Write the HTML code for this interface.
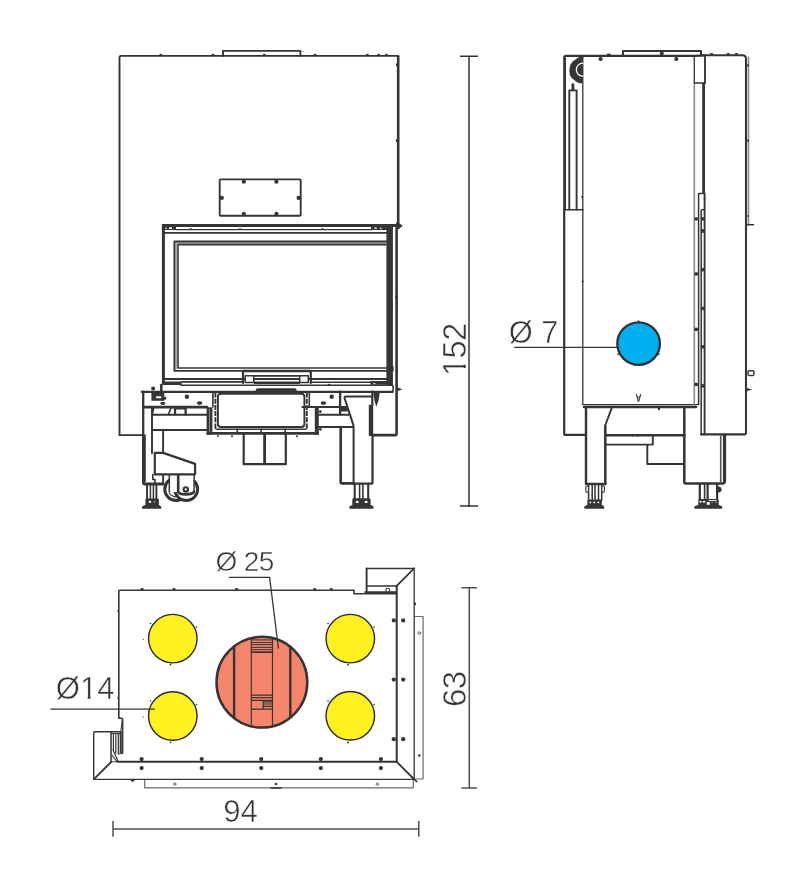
<!DOCTYPE html>
<html lang="en">
<head>
<meta charset="utf-8">
<title>Technical drawing</title>
<style>
html,body{margin:0;padding:0;background:#fff;}
body{width:805px;height:887px;overflow:hidden;}
svg{display:block;will-change:transform;}
.l{fill:none;stroke:#363435;stroke-width:1.8;stroke-linecap:round;stroke-linejoin:round;}
.t{fill:none;stroke:#363435;stroke-width:1.3;stroke-linecap:round;stroke-linejoin:round;}
.h{fill:none;stroke:#363435;stroke-width:2.5;stroke-linecap:round;stroke-linejoin:round;}
.g{fill:none;stroke:#8a8a8a;stroke-width:1;}
.d{fill:#363435;stroke:none;}
.dim{fill:none;stroke:#363435;stroke-width:1.5;}
text{font-family:"Liberation Sans",sans-serif;fill:#363435;stroke:#fff;stroke-width:0.5px;paint-order:fill stroke;}
</style>
</head>
<body>
<svg width="805" height="887" viewBox="0 0 805 887">
<rect width="805" height="887" fill="#fff"/>

<!-- ================= FRONT VIEW ================= -->
<g id="front" fill="none" stroke="#363435" stroke-linecap="round" stroke-linejoin="round">
  <!-- body -->
  <path stroke-width="1.9" d="M119.5 435.1V57.4Q119.5 55.9 121 55.9H397"/>
  <path stroke-width="2.6" d="M398.2 56.3V224"/>
  <path stroke-width="1.9" d="M119.5 435.1H143"/>
  <path stroke-width="1.9" d="M223 55.9V50.9H300.4V55.9"/>
  <g fill="#363435" stroke="none"><ellipse cx="160.9" cy="54.8" rx="1.5" ry="1"/><ellipse cx="212.8" cy="54.8" rx="1.5" ry="1"/><ellipse cx="264.3" cy="54.8" rx="1.5" ry="1"/><ellipse cx="315.1" cy="54.8" rx="1.5" ry="1"/><ellipse cx="367.3" cy="54.8" rx="1.5" ry="1"/><ellipse cx="378.7" cy="54.8" rx="1.5" ry="1"/><ellipse cx="386.4" cy="54.8" rx="1.5" ry="1"/><ellipse cx="396.8" cy="64.8" rx="1" ry="1.6"/><ellipse cx="396.8" cy="140.6" rx="1" ry="1.6"/><circle cx="303" cy="51.5" r="0.6"/></g>
  <!-- plate -->
  <rect stroke-width="1.9" x="219.7" y="179.4" width="81" height="36.3" rx="1"/>
  <g fill="#363435" stroke="none"><circle cx="243.8" cy="181.7" r="2.1"/><circle cx="276.4" cy="181.7" r="2.1"/><circle cx="243.8" cy="213.9" r="2.1"/><circle cx="276.4" cy="213.9" r="2.1"/><circle cx="221.8" cy="197.9" r="2.1"/><circle cx="298.6" cy="197.9" r="2.1"/></g>
  <!-- door -->
  <path stroke-width="3" stroke-linecap="butt" d="M162 225.5H397.5"/>
  <path stroke-width="6" stroke-linecap="butt" d="M162 227H176M371 227H392.7"/>
  <path stroke-width="1.3" d="M176 229.7H371"/>
  <path stroke-width="1.9" d="M163.5 232.9H388"/>
  <path stroke-width="3" stroke-linecap="butt" d="M163.4 224V385"/>
  <path d="M386.4 224H392.9V385H386.4Z" fill="#363435" stroke="none"/>
  <path stroke="#a8a8a8" stroke-width="1.6" stroke-linecap="butt" d="M387 243.1H176.2V369.4"/>
  <path stroke-width="1.9" d="M387 241.5H174.4V370.9H387"/><path stroke-width="2.4" d="M243 371H310.8"/>
  <path stroke-width="1.6" d="M387 244.6H178V368H387"/>
  <path stroke-width="1.9" d="M163.5 379H392"/>
  <path stroke-width="3.6" stroke-linecap="butt" d="M163.4 383.2H181.7M370.4 382.9H392"/><rect x="373.4" y="382.8" width="1.8" height="1.4" fill="#fff" stroke="none"/>
  <path stroke-width="1.6" d="M181.7 381.9H243M312 382.2H392"/>
  <path stroke-width="2.6" d="M396.6 226V434Q396.6 435.1 395.5 435.1H372.3"/>
  <!-- handle -->
  <path stroke-width="2.2" d="M243 383V371.4M310.8 371.4V383"/>
  <path stroke-width="1.7" d="M254 375.8H300M254 378.9H300"/><path stroke-width="2.6" stroke-linecap="butt" d="M254 382.8H300"/>
  <rect x="245.2" y="375.7" width="8.6" height="6.8" fill="#fff" stroke-width="1.5"/>
  <rect x="299.7" y="375.7" width="8.6" height="6.8" fill="#fff" stroke-width="1.5"/>
  <!-- tray -->
  <path stroke-width="1.6" d="M181 385.2H392.6Q393.9 388.5 392.6 391.8"/>
  <path stroke-width="2.2" d="M141.8 391.9H392.6"/>
  <path stroke-width="4.6" d="M258 390.6H294.4"/>
  <g fill="#363435" stroke="none"><path d="M396.5 222L402.8 225.5L398.6 229.5L395.4 226Z"/><path d="M396 386.8L402.3 389.4L396 391.6Z"/><ellipse cx="396" cy="297" rx="1" ry="1.5"/><ellipse cx="391.8" cy="305" rx="1.3" ry="2"/><ellipse cx="392.2" cy="368.7" rx="1.5" ry="3.2"/><ellipse cx="190.7" cy="229.2" rx="1.6" ry="0.9"/><ellipse cx="240" cy="229.2" rx="1.6" ry="0.9"/><ellipse cx="322.5" cy="229.2" rx="1.6" ry="0.9"/><ellipse cx="329" cy="384.5" rx="1.5" ry="0.8"/></g>
  <g fill="#fff" stroke="none"><rect x="165.5" y="227.5" width="1.2" height="1.6"/><rect x="169" y="227.3" width="3" height="1.7"/><rect x="374.5" y="227.5" width="2.2" height="1.4"/><rect x="380" y="227.7" width="1.6" height="1.2"/></g>
  <!-- left leg -->
  <path stroke-width="2.3" d="M143.2 391.6V435"/><path stroke-width="3.8" stroke-linecap="butt" d="M143.9 434.5V482"/><path stroke-width="2.8" d="M143.4 482.4Q143.4 484 145 484H163.2"/>
  <path stroke-width="2.7" d="M143.2 407.1H207"/>
  <path stroke-width="1.9" d="M152.4 414.7H207M152.4 430H207"/>
  <path stroke-width="1.9" d="M152 407.1V453.3M163.1 430V453M163.1 474.3V484"/>
  <path stroke-width="1.6" d="M152.8 474.5V479.5H155V484"/>
  <path stroke-width="1.7" d="M171.3 407.5L168.3 414.5M153.6 408L152.4 414"/>
  <path stroke-width="2.3" d="M175 414.5V408.3H185.6V414.5"/>
  <path d="M151.4 392.4H164.3V400.8H151.4Z" fill="#363435" stroke="none"/><rect x="155.9" y="396.2" width="5.6" height="2.1" rx="1" fill="#fff" stroke="none"/>
  <path stroke-width="2.6" d="M161.3 385V391.6"/>
  <g fill="#363435" stroke="none"><circle cx="153.1" cy="388.6" r="2"/><circle cx="186.9" cy="396.8" r="2.2"/><ellipse cx="199.6" cy="403.1" rx="2.8" ry="1.8"/><ellipse cx="162.8" cy="403.3" rx="2.6" ry="1.6"/><circle cx="164.8" cy="398.3" r="1.5"/></g>
  <!-- wheel -->
  <circle cx="176.2" cy="489.2" r="11.4" stroke-width="3"/>
  <path stroke-width="1.3" d="M169.5 493.5A7.6 7.6 0 0 0 181 494.8"/>
  <circle cx="186.2" cy="489.2" r="11.4" stroke-width="3" fill="#fff"/>
  <path d="M169.3 474.3H194.1V492H169.3Z" fill="#fff" stroke="none"/>
  <path stroke-width="1.5" d="M169.3 474.3V492M194.1 474.3V492.5"/>
  <path stroke-width="2.6" d="M178.2 474.3V491.5Q178.6 494.4 186 494.4Q192.5 494.2 193.8 492"/>
  <circle cx="185.8" cy="489.4" r="2.2" fill="#fff" stroke-width="2.1"/>
  <path stroke-width="2.2" fill="#fff" d="M154.8 452.9H163.1L195.1 463.9V474.3H154.8Z"/>
  <!-- left foot -->
  <g>
    <path stroke-width="1.9" d="M147 484V499M156.4 484V499"/><path stroke-width="1.5" d="M150.4 484V499M153.4 484V499"/>
    <path fill="#363435" stroke="none" d="M146.2 498.6H158.1L158.9 499.6V504.9L160.6 505.9Q162.3 507.3 160.8 508.8H142.5Q141.0 507.3 142.7 505.9L145.4 504.9V499.6Z"/>
    <rect x="148.8" y="500.8" width="2.3" height="2" fill="#fff" stroke="none"/><rect x="153.8" y="501" width="1.4" height="1.5" fill="#aaa" stroke="none"/>
  </g>
  <!-- ash box -->
  <rect stroke-width="1.9" x="217.9" y="393.7" width="86.5" height="33.3" rx="3"/>
  <path stroke-width="5.8" stroke-linecap="butt" d="M209.5 407.3V434.6"/>
  <path stroke="#8a8a8a" stroke-width="1" stroke-linecap="butt" d="M209.5 409V432"/>
  <path stroke-width="4" stroke-linecap="butt" d="M316.8 407.3V434.8"/>
  <path stroke-width="2.8" stroke-linecap="butt" d="M206.6 433.3H318.8"/>
  <path stroke-width="1.9" stroke-dasharray="5 1.2" stroke-linecap="butt" d="M215.4 392.5V428M306.8 392.5V428"/>
  <path stroke-width="1.6" d="M212.9 392.5V407M215.4 428Q215.6 429.3 217 429.3H305.2Q306.6 429.3 306.8 428M309.3 392.5V407"/>
  <path stroke-width="1.6" d="M237.3 429.3V432M261.1 429.3V432M285.2 429.3V432"/>
  <g fill="#363435" stroke="none"><circle cx="232" cy="436.3" r="1"/><circle cx="218" cy="436" r="0.9"/><circle cx="297" cy="436.3" r="1"/><circle cx="320.3" cy="411.7" r="1.4"/><circle cx="320.3" cy="429.3" r="1.4"/></g>
  <!-- chimney stub -->
  <path stroke-width="2.2" d="M243.7 434V464.2H285.8V434"/>
  <path stroke-width="2.8" stroke-linecap="butt" d="M264.6 434V464.2"/>
  <!-- right leg -->
  <path stroke-width="1.9" d="M302.4 407H345.6"/>
  <path stroke-width="2.3" d="M340.1 391.6V414.7"/>
  <path stroke-width="1.9" d="M318.8 414.7H348.6M318.8 427H353"/>
  <path stroke-width="2.2" d="M340.1 408.3H347M340.1 410.4H347.3"/>
  <path stroke-width="2" d="M372.3 396.4H346Q344.2 396.4 344.6 398.2L353.2 424.6Q353.6 426 353.6 428V483.5"/>
  <path stroke-width="2.2" d="M372.3 391.6V405"/>
  <path stroke-width="4.4" stroke-linecap="butt" d="M371 404.8V436"/>
  <path fill="#363435" stroke="none" d="M373.3 392.5H379.7L378.6 400L376.3 407L374.6 401Z"/>
  <path stroke-width="2.2" d="M372.5 436V482.2Q372.5 483.7 371 483.7H353.6"/><path stroke-width="2.6" d="M353.6 483.4H342.2Q340.7 483.4 340.7 482V427.2"/>
  <g fill="#363435" stroke="none"><circle cx="331.7" cy="396.8" r="2.2"/><ellipse cx="323.4" cy="403.1" rx="2.8" ry="1.8"/></g>
  <!-- right foot -->
  <g>
    <path stroke-width="2.1" d="M354.7 484V499M368.2 484V499"/><path stroke-width="1.6" d="M359.6 484V499M362.9 484V499"/>
    <path fill="#363435" stroke="none" d="M353.1 498.2H369.8L370.6 499.2V504.9L372.9 505.9Q374.6 507.3 373.1 508.8H349.8Q348.3 507.3 350.0 505.9L352.3 504.9V499.2Z"/>
    <rect x="355.9" y="500.9" width="2.6" height="2.1" fill="#fff" stroke="none"/><rect x="364.8" y="500.9" width="2.6" height="2.1" fill="#fff" stroke="none"/>
  </g>
</g>

<!-- dimension 152 -->
<path class="dim" d="M469 56.2V507M460 56.2H478M460 506H478"/>
<g transform="translate(466.4,375.9) rotate(-90)"><text font-size="32.4" letter-spacing="-0.5">152</text><path class="cv" d="M1 1V-3.7H7.9V1ZM11.25 1V-3.7H17.6V1Z" fill="#fff"/></g>

<!-- ================= SIDE VIEW ================= -->
<g id="side" fill="none" stroke="#363435" stroke-linecap="round" stroke-linejoin="round">
  <path stroke-width="2.8" stroke-linecap="butt" d="M564.6 209.6V57.5"/>
  <path stroke-width="2.2" d="M564.2 209.6V433.4Q564.2 434.9 565.7 434.9H585.3"/>
  <path stroke-width="2.2" d="M564.3 58V57.4Q564.3 55.9 565.9 55.9H695L704 55.3"/>
  <path stroke-width="1.6" d="M564.5 209.7H582.8"/>
  <path stroke-width="1.3" d="M582.8 57V404.7H698.3"/>
  <path stroke-width="2.4" d="M584 407H696"/>
  <path stroke="#8a8a8a" stroke-width="1.6" stroke-linecap="butt" d="M694.3 83V404.7"/>
  <path stroke-width="1.3" d="M694.3 56.5V83H704.5"/>
  <path stroke-width="1.9" d="M705 56V83"/>
  <path stroke-width="2.8" stroke-linecap="butt" d="M703.6 83V193.4"/>
  <path stroke-width="1.5" d="M704 193.6H698.6V404.4"/>
  <path stroke-width="1.9" d="M704.6 193.4V434.4"/>
  <path stroke-width="1.5" d="M704.3 209.8H702.2Q701.2 209.8 701.2 211V434.4"/>
  <path stroke-width="2.1" d="M701 55.2H742.5Q746 55.2 746 58.8V433Q746 434.4 744.6 434.4H701"/>
  <path stroke="#8a8a8a" stroke-width="1.6" stroke-linecap="butt" d="M748.5 56.5V224.7"/>
  <path stroke-width="1.4" d="M747 224.7H753.6"/>
  <path stroke-width="2" d="M623 55.5V51H701V55.5"/>
  <!-- pulley -->
  <path d="M582.8 56.8Q578 56.6 576 59.2Q572.5 60.4 570.5 64.5Q568.6 69.5 569.8 75Q571.5 79 574.5 80.2Q577 83.4 582.8 83.3Z" fill="#363435" stroke="none"/>
  <path d="M582.8 63.2A6.5 6.5 0 0 0 582.8 76.2" stroke="#fff" stroke-width="1.3"/>
  <!-- rod -->
  <path stroke-width="1.9" d="M569.3 209.6V90.4H576.6V209.6"/>
  <path stroke-width="2.8" d="M572.9 84.6V90"/>
  <g fill="#363435" stroke="none"><circle cx="600.6" cy="59" r="2.1"/><circle cx="676.3" cy="59" r="2.1"/><circle cx="661.8" cy="53.4" r="2"/><ellipse cx="608.8" cy="54.6" rx="2.2" ry="1.1"/><ellipse cx="711.6" cy="54" rx="1.8" ry="1"/><ellipse cx="728.3" cy="54" rx="1.8" ry="1"/><ellipse cx="736.5" cy="54" rx="1.8" ry="1"/>
  <circle cx="582.2" cy="197" r="1.1"/><circle cx="582.6" cy="281.5" r="1"/>
  <circle cx="696.2" cy="218.8" r="1.9"/><circle cx="702.7" cy="218.8" r="1.9"/><circle cx="702.7" cy="231" r="1.9"/>
  <circle cx="696.2" cy="273.9" r="1.9"/><circle cx="702.7" cy="269.7" r="1.9"/><circle cx="702.7" cy="308.4" r="1.9"/><circle cx="696.2" cy="329.3" r="1.9"/><circle cx="702.7" cy="346.8" r="1.9"/><circle cx="696.2" cy="384.4" r="1.9"/><circle cx="702.7" cy="385.8" r="1.9"/>
  <ellipse cx="748" cy="65.2" rx="0.9" ry="1.3"/><ellipse cx="748" cy="140.6" rx="0.9" ry="1.3"/><ellipse cx="748" cy="216" rx="0.8" ry="1.1"/><circle cx="704.5" cy="198.5" r="0.9"/></g>
  <!-- knob -->
  <rect x="748" y="370.7" width="6" height="4.8" rx="1.4" fill="#fff" stroke-width="1.5"/>
  <path fill="#363435" stroke="none" d="M745.5 387.8L752.3 389.6L745.5 391.4Z"/>
  <!-- blue circle -->
  <path stroke-width="1.4" stroke-linecap="butt" d="M514.3 347.4H618"/>
  <circle cx="638.6" cy="343.6" r="21.3" fill="#00aff0" stroke="#332e2d" stroke-width="2.3"/>
  <g fill="#363435" stroke="none"><circle cx="638.6" cy="321.2" r="0.9"/><circle cx="618.3" cy="354.2" r="0.9"/><circle cx="658.8" cy="354.2" r="0.9"/></g>
  <!-- A mark -->
  <path stroke-width="1.1" d="M636.4 394.6L638.2 401.2H638.8L640.6 394.6M637 397H640"/>
  <!-- legs -->
  <path stroke-width="2.4" d="M586 407V484H605.3"/>
  <path stroke-width="1.9" d="M611.7 408.2L605.6 424.5"/>
  <path stroke-width="2.5" d="M605.3 425.8V484"/>
  <path stroke-width="2.4" d="M605.3 435.2H684.3"/>
  <path stroke-width="1.9" d="M605.3 444.6H652.8V435.2M647.3 444.6V464H684.3"/>
  <path stroke-width="2.5" d="M684.3 407V482Q684.3 483.5 685.8 483.5H722.8Q724.4 483.5 724.4 482"/><path stroke-width="3.2" stroke-linecap="butt" d="M724.5 435V482.5"/>
  <path stroke-width="1.6" stroke="#555" d="M720.7 435V483"/>
  <g fill="#363435" stroke="none"><circle cx="632.6" cy="435.2" r="1.3"/><circle cx="638.2" cy="435.2" r="1.3"/><circle cx="659" cy="409" r="1.2"/></g>
  <!-- feet -->
  <g>
    <path stroke-width="1.5" d="M588.6 484.3V500.5M592.2 484.3V500.5M595 484.3V500.5M598.5 484.3V500.5M601.7 484.3V500.5"/>
    <path fill="#363435" stroke="none" d="M588.1 499.4H601.0L601.8 500.4V504.9L603.6 505.9Q605.3 507.3 603.8 508.8H584.7Q583.2 507.3 584.9 505.9L587.3 504.9V500.4Z"/>
    <rect x="585.8" y="486" width="2.6" height="6.2" rx="1.3" fill="#fff" stroke-width="1.1"/>
    <rect x="601.8" y="486" width="2.6" height="6.2" rx="1.3" fill="#fff" stroke-width="1.1"/>
    <g fill="#fff" stroke="none"><rect x="589.5" y="501.7" width="1.7" height="1.5"/><rect x="593.4" y="501.7" width="1.7" height="1.5"/><rect x="597.5" y="501.7" width="1.7" height="1.5"/></g>
  </g>
  <g>
    <path stroke-width="2.2" d="M699.8 484.3V500M707.6 484.3V500M717.1 484.3V500"/><path stroke-width="1.6" d="M704.6 484.3V500"/>
    <path fill="#363435" stroke="none" d="M699.1 498.9H717.9L718.7 499.9V504.9L721.6 505.9Q723.3 507.3 721.8 508.8H694.8Q693.3 507.3 695.0 505.9L698.3 504.9V499.9Z"/>
    <path fill="#363435" stroke="none" d="M717.5 486.6H719Q721.6 487 721.6 489.6Q721.6 492.3 719 492.6H717.5Z"/>
    <g fill="#fff" stroke="none"><rect x="699.6" y="500.9" width="2" height="1.7"/><rect x="702.8" y="500.9" width="2.4" height="1.7"/><rect x="706.8" y="502.1" width="3" height="2.7"/><rect x="708.6" y="500" width="8" height="0.9"/><rect x="711.5" y="502" width="1.3" height="0.8" fill="#aaa"/><rect x="715" y="502" width="2" height="0.8" fill="#aaa"/></g>
  </g>
</g>
<text x="508.8" y="343" font-size="30.8">Ø 7</text>

<!-- ================= PLAN VIEW ================= -->
<g id="plan" fill="none" stroke="#363435" stroke-linecap="round" stroke-linejoin="round">
  <!-- strips -->
  <path stroke="#6a6a6a" stroke-width="1.2" d="M144.7 779.4V787.95H413.3V779.4"/>
  <path stroke="#6a6a6a" stroke-width="1.2" d="M414.3 616.5H423.1V779H414.3"/>
  <g fill="#fff" stroke="#555" stroke-width="0.9"><circle cx="174.7" cy="784.1" r="1.2"/><circle cx="377.3" cy="784.1" r="1.2"/><circle cx="419.3" cy="633.1" r="1.3"/></g>
  <g fill="#363435" stroke="none"><circle cx="276" cy="784" r="1.3"/><circle cx="419.3" cy="755.5" r="1.3"/></g>
  <path stroke-width="1.6" stroke-linecap="butt" d="M270.5 787.9H281.5"/>
  <!-- main box -->
  <path stroke-width="1.6" d="M122.6 753V719.3Q122.6 718.3 121.6 718.3H118.8V591.3Q118.8 590.2 119.9 590.2H354V593.7H396.7"/>
  <path stroke-width="1" d="M122.5 718.5L120.8 731"/>
  <path stroke-width="2" d="M118 761.8H396.7V585.9"/><path stroke-width="1.1" d="M111.2 761.8H118"/>
  <!-- outer door frame -->
  <path stroke-width="1.4" d="M120.7 731.8H94.6Q93.7 731.8 93.7 732.7V779.4H414.2"/>
  <path stroke-width="1.3" d="M414.2 779.4V568.4"/>
  <path stroke-width="1.5" d="M414.2 568.4H366.6"/>
  <path stroke-width="1.9" d="M366.6 568.4V592.5"/>
  <path stroke-width="1.5" d="M366.6 585.9H396.7M111.05 732.5V762"/>
  <path stroke-width="1.8" d="M396.7 585.9L414.2 568.4M396.7 761.8L414.2 779.3M94.2 778.9L111.1 762"/>
  <path stroke-width="1.7" stroke-linecap="butt" d="M364.5 592.2H396.5"/>
  <circle cx="387.8" cy="590.1" r="1.9" fill="#fff" stroke-width="1.1"/>
  <path fill="#363435" stroke="none" d="M411.5 775.5L417.8 781.5L416.5 782.6L410.5 776.8Z"/>
  <!-- hinge detail -->
  <path stroke-width="2" stroke-linecap="butt" d="M120.7 731.6V753"/>
  <path stroke-width="1.2" d="M111.4 733.6H120.5M113.4 735V750M115.8 735V753M118.3 734V754M113 750L118 761M111.8 755L117 761.5M118.3 754L122.5 753.5"/>
  <!-- dots -->
  <g fill="#363435" stroke="none">
    <circle cx="141.6" cy="759.1" r="2.1"/><circle cx="141.6" cy="768.1" r="2.1"/>
    <circle cx="201.7" cy="759.1" r="2.1"/><circle cx="201.7" cy="768.1" r="2.1"/>
    <circle cx="261.2" cy="759.1" r="2.1"/><circle cx="261.2" cy="768.1" r="2.1"/>
    <circle cx="320.8" cy="759.1" r="2.1"/><circle cx="320.8" cy="768.1" r="2.1"/>
    <circle cx="380.9" cy="759.1" r="2.1"/><circle cx="380.9" cy="768.1" r="2.1"/>
    <circle cx="393.8" cy="620.4" r="2.1"/><circle cx="403.2" cy="620.4" r="2.1"/>
    <circle cx="393.8" cy="679.6" r="2.1"/><circle cx="403.2" cy="679.6" r="2.1"/>
    <circle cx="393.8" cy="739.2" r="2.1"/><circle cx="403.2" cy="739.2" r="2.1"/>
    <ellipse cx="415" cy="603.8" rx="1.1" ry="1.6"/>
    <ellipse cx="132.5" cy="780.6" rx="2" ry="1.1"/>
    <ellipse cx="142.1" cy="589.1" rx="1.7" ry="1"/><ellipse cx="174" cy="589.1" rx="1.7" ry="1"/><ellipse cx="236.6" cy="589.1" rx="1.7" ry="1"/><ellipse cx="314.7" cy="589.1" rx="1.7" ry="1"/><ellipse cx="331.2" cy="589.1" rx="1.7" ry="1"/>
    <ellipse cx="118.2" cy="611" rx="0.8" ry="1.3"/><ellipse cx="118.2" cy="698" rx="0.8" ry="1.3"/>
  </g>
  <!-- yellow circles -->
  <g fill="#fff21f" stroke="#2b2930" stroke-width="1.4">
    <circle cx="172.8" cy="638.6" r="24.25"/><circle cx="172.8" cy="716" r="24.25"/>
    <circle cx="350.3" cy="638.6" r="24.25"/><circle cx="350.3" cy="715.8" r="24.25"/>
  </g>
  <g fill="#363435" stroke="none">
    <circle cx="150.5" cy="623.5" r="0.8"/><circle cx="196.5" cy="627" r="0.8"/><circle cx="170.5" cy="664.5" r="0.9"/><circle cx="143.5" cy="639.5" r="0.6"/>
    <circle cx="150.5" cy="701" r="0.8"/><circle cx="196.5" cy="704.5" r="0.8"/><circle cx="170.5" cy="742.3" r="0.9"/><circle cx="143.5" cy="717" r="0.6"/>
    <circle cx="328" cy="623.5" r="0.8"/><circle cx="374" cy="627" r="0.8"/><circle cx="348" cy="664.7" r="0.9"/>
    <circle cx="328" cy="701" r="0.8"/><circle cx="374" cy="704.5" r="0.8"/><circle cx="348" cy="742.5" r="0.9"/>
  </g>
  <!-- red circle -->
  <circle cx="261.9" cy="682.2" r="45.4" fill="#f5866c" stroke-width="2.5"/>
  <path stroke-width="2.4" stroke-linecap="butt" d="M234.1 645.5V719M290.3 646V718.5"/>
  <path stroke-width="1.15" d="M251.3 637.5V727M272.5 638V726.5"/>
  <path stroke-width="1" d="M251.5 639.9H272.5M251.5 642.6H272.5M251.5 644.7H272.5M251.5 647.4H272.5M251.5 649.6H272.5"/>
  <path stroke-width="1.6" d="M251.5 652.1H272.5"/>
  <path stroke-width="1.2" d="M251.5 695.1H272.5M251.5 697.6H272.5M251.5 700.3H272.5M251.5 709.2H272.5M263.1 700.3V709.2M263.1 701.8H272.5M263.1 704H272.5M263.1 706.3H272.5"/>
  <!-- leaders -->
  <path stroke-width="1.3" d="M229.4 577.4H269.6L278.4 648"/>
  <path stroke-width="1.3" stroke-linecap="butt" d="M50.4 709.2H154.8"/>
</g>
<text x="215.5" y="571.4" font-size="28" letter-spacing="-0.6">Ø 25</text>
<g transform="translate(55.8,698.9)"><text font-size="31">Ø14</text><path class="cv" d="M25 1V-3.5H31.85V1ZM34.75 1V-3.5H41.6V1Z" fill="#fff"/></g>

<!-- dimension 63 -->
<path class="dim" style="stroke:#505050;stroke-width:1.5" d="M469.3 587.6V788.4M461.4 587.8H477M461.4 787.9H477"/>
<text transform="translate(466.3,706.9) rotate(-90)" font-size="33" letter-spacing="-0.6">63</text>
<!-- dimension 94 -->
<path class="dim" style="stroke:#505050;stroke-width:1.5" d="M113 828.9H418.8M113 821.1V836.8M418.8 821.1V836.8"/>
<text x="223.2" y="822" font-size="31.2">94</text>
</svg>
</body>
</html>
